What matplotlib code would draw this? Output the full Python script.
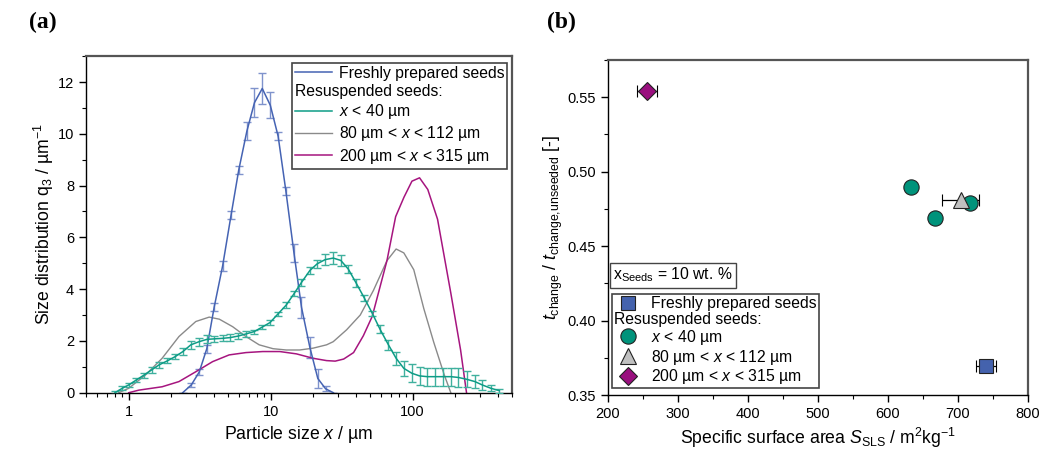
import numpy as np
import matplotlib
matplotlib.use("Agg")
import matplotlib.pyplot as plt
from matplotlib.lines import Line2D
from matplotlib.ticker import MultipleLocator, LogLocator, NullFormatter, FormatStrFormatter

plt.rcParams['font.family'] = ['Liberation Sans', 'DejaVu Sans']
plt.rcParams['mathtext.fontset'] = 'custom'
plt.rcParams['mathtext.rm'] = 'Liberation Sans'
plt.rcParams['mathtext.it'] = 'Liberation Sans:italic'
plt.rcParams['mathtext.bf'] = 'Liberation Sans:bold'

# (a) particle size distributions
fresh_x = [2.4, 2.76, 3.14, 3.55, 4.0, 4.59, 5.26, 5.96, 6.8, 7.69, 8.73, 9.95, 11.3, 12.8, 14.6, 16.5, 18.9, 21.5, 24.4, 27.7]
fresh_y = [0, 0.3, 0.8, 1.7, 3.3, 4.9, 6.85, 8.6, 10.1, 11.2, 11.75, 11.1, 9.9, 7.8, 5.4, 3.3, 1.75, 0.55, 0.15, 0]
fresh_err = [0, 0.08, 0.12, 0.15, 0.15, 0.2, 0.15, 0.15, 0.35, 0.55, 0.6, 0.5, 0.15, 0.15, 0.35, 0.4, 0.4, 0.35, 0.1, 0]

small_x = [0.80, 0.90, 1.0, 1.13, 1.28, 1.45, 1.63, 1.87, 2.12, 2.41,
           2.74, 3.13, 3.55, 4.0, 4.59, 5.2, 5.93, 6.7, 7.65, 8.7,
           9.9, 11.3, 12.9, 14.6, 16.5, 18.9, 21.3, 24.2, 27.6, 31.2,
           35.3, 40.1, 45.8, 52, 59, 67.6, 76.6, 86.8, 99, 112,
           127, 144, 164, 186, 210, 240, 275, 310, 357, 408]
small_y = [0, 0.17, 0.3, 0.49, 0.68, 0.88, 1.07, 1.23, 1.39, 1.59,
           1.85, 1.97, 2.06, 2.08, 2.1, 2.13, 2.19, 2.27, 2.36, 2.53,
           2.71, 3.05, 3.39, 3.82, 4.26, 4.72, 4.98, 5.14, 5.2, 5.11,
           4.77, 4.23, 3.65, 3.07, 2.45, 1.85, 1.33, 0.94, 0.75, 0.65,
           0.62, 0.62, 0.62, 0.62, 0.59, 0.52, 0.43, 0.3, 0.17, 0.08]
small_err = [0.05, 0.08, 0.08, 0.08, 0.1, 0.1, 0.1, 0.1, 0.1, 0.12,
             0.15, 0.15, 0.15, 0.12, 0.12, 0.12, 0.1, 0.1, 0.08, 0.08,
             0.08, 0.08, 0.1, 0.1, 0.12, 0.12, 0.15, 0.2, 0.22, 0.2,
             0.15, 0.15, 0.12, 0.1, 0.15, 0.2, 0.25, 0.3, 0.35, 0.35,
             0.35, 0.35, 0.35, 0.35, 0.35, 0.3, 0.25, 0.2, 0.12, 0.08]

mid_x = [0.85, 1.0, 1.31, 1.72, 2.26, 2.97, 3.69, 4.35, 5.4, 6.7, 8.3, 10.4, 12.9, 16.0,
         19.9, 24.8, 27.6, 34.3, 42.8, 53, 66, 76.6, 86.8, 102, 120, 141, 167, 186]
mid_y = [0, 0.17, 0.68, 1.33, 2.17, 2.75, 2.92, 2.84, 2.55, 2.17, 1.85, 1.7, 1.65, 1.65,
         1.72, 1.85, 1.97, 2.43, 3.0, 3.95, 5.1, 5.55, 5.4, 4.75, 3.25, 1.95, 0.7, 0]

large_x = [1.0, 1.18, 1.72, 2.26, 2.97, 3.9, 5.1, 6.7, 8.8, 11.6, 15.2, 19.9, 24.8, 28.5,
           32.7, 38.4, 45, 52, 66, 76, 87, 99, 112, 128, 150, 186, 218, 240]
large_y = [0, 0.1, 0.23, 0.43, 0.81, 1.2, 1.46, 1.55, 1.59, 1.59, 1.5, 1.33, 1.24, 1.22,
           1.3, 1.55, 2.2, 2.95, 5.1, 6.8, 7.55, 8.17, 8.3, 7.85, 6.7, 3.85, 1.65, 0]

# (b) relative change time vs specific surface area
fresh_s, fresh_t, fresh_serr = [740], [0.3695], [14]
small_s, small_t = [633, 668, 717], [0.490, 0.469, 0.479]
mid_s, mid_t, mid_serr = [704], [0.4807], [26]
large_s, large_t, large_serr = [256], [0.5540], [14]

labels = ['Freshly prepared seeds', 'Resuspended seeds:', '$x$ < 40 µm',
          '80 µm < $x$ < 112 µm', '200 µm < $x$ < 315 µm']

c_fresh = '#4563b3'
c_small = '#0d9c86'
c_mid = '#8a8a8a'
c_large = '#a6157f'
m_fresh = '#4462ad'
m_small = '#00937b'
m_mid = '#c0c0c0'
m_large = '#990f7e'

fig = plt.figure(figsize=(10.41, 4.5), dpi=100)
ax1 = fig.add_axes([0.0826, 0.1273, 0.409, 0.748])
ax2 = fig.add_axes([0.5838, 0.1222, 0.4035, 0.7444])


def flush_header(leg, idx):
    rows = [r for col in leg._legend_handle_box.get_children() for r in col.get_children()]
    row = rows[idx]
    row.get_children()[0].width = 0
    row.sep = 0


# ---- panel (a)
ax1.errorbar(fresh_x, fresh_y, yerr=fresh_err, color=c_fresh, lw=1.1, ecolor='#7f93cc',
             elinewidth=1.0, capsize=3, capthick=1.0)
ax1.plot(mid_x, mid_y, color=c_mid, lw=1.0)
ax1.plot(large_x, large_y, color=c_large, lw=1.1)
ax1.errorbar(small_x, small_y, yerr=small_err, color=c_small, lw=1.1, ecolor='#3fb09e',
             elinewidth=1.0, capsize=3, capthick=1.0, zorder=3)

ax1.set_xscale('log')
ax1.set_xlim(0.5, 500)
ax1.set_ylim(0, 13)
ax1.xaxis.set_minor_locator(LogLocator(base=10, subs=np.arange(2, 10), numticks=20))
ax1.xaxis.set_minor_formatter(NullFormatter())
ax1.set_xticks([1, 10, 100])
ax1.set_xticklabels(['1', '10', '100'])
ax1.yaxis.set_major_locator(MultipleLocator(2))
ax1.yaxis.set_minor_locator(MultipleLocator(1))
ax1.set_xlabel('Particle size $x$ / µm', fontsize=12.7)
ax1.set_ylabel('Size distribution q$_3$ / µm$^{-1}$', fontsize=12.7, labelpad=1)

h1 = [Line2D([], [], color=c_fresh, lw=1.1), Line2D([], [], alpha=0),
      Line2D([], [], color=c_small, lw=1.1), Line2D([], [], color=c_mid, lw=1.0),
      Line2D([], [], color=c_large, lw=1.1)]
leg1 = ax1.legend(h1, labels, loc='upper right', bbox_to_anchor=(0.99, 0.98),
                  borderaxespad=0, fontsize=11.3, handlelength=2.4, handletextpad=0.4,
                  labelspacing=0.2, borderpad=0.2, fancybox=False, framealpha=1,
                  edgecolor='#444444')
leg1.get_frame().set_linewidth(1.2)
flush_header(leg1, 1)

# ---- panel (b)
ax2.errorbar(fresh_s, fresh_t, xerr=fresh_serr, fmt='s', ms=10, mfc=m_fresh, mec='#222222',
             mew=0.8, ecolor='black', elinewidth=0.9, capsize=4)
ax2.errorbar(small_s, small_t, fmt='o', ms=11, mfc=m_small, mec='#222222', mew=0.8)
ax2.errorbar(mid_s, mid_t, xerr=mid_serr, fmt='^', ms=11, mfc=m_mid, mec='#222222',
             mew=0.8, ecolor='black', elinewidth=0.9, capsize=4)
ax2.errorbar(large_s, large_t, xerr=large_serr, fmt='D', ms=9.5, mfc=m_large, mec='#222222',
             mew=0.8, ecolor='black', elinewidth=0.9, capsize=4)

ax2.set_xlim(200, 800)
ax2.set_ylim(0.35, 0.575)
ax2.xaxis.set_major_locator(MultipleLocator(100))
ax2.xaxis.set_minor_locator(MultipleLocator(50))
ax2.yaxis.set_major_locator(MultipleLocator(0.05))
ax2.yaxis.set_minor_locator(MultipleLocator(0.025))
ax2.yaxis.set_major_formatter(FormatStrFormatter('%.2f'))
ax2.set_xlabel('Specific surface area $S_{\\mathrm{SLS}}$ / m$^2$kg$^{-1}$', fontsize=12.7)
ax2.set_ylabel('$t_{\\mathrm{change}}$ / $t_{\\mathrm{change{,}unseeded}}$ [-]', fontsize=12.7,
               labelpad=2)

h2 = [Line2D([], [], ls='', marker='s', ms=10, mfc=m_fresh, mec='#222222', mew=0.8),
      Line2D([], [], alpha=0),
      Line2D([], [], ls='', marker='o', ms=11, mfc=m_small, mec='#222222', mew=0.8),
      Line2D([], [], ls='', marker='^', ms=11, mfc=m_mid, mec='#222222', mew=0.8),
      Line2D([], [], ls='', marker='D', ms=9.5, mfc=m_large, mec='#222222', mew=0.8)]
leg2 = ax2.legend(h2, labels, loc='lower left', bbox_to_anchor=(0.01, 0.02),
                  borderaxespad=0, fontsize=11.3, handlelength=1.8, handletextpad=0.6,
                  labelspacing=0.05, borderpad=0.12, fancybox=False, framealpha=1,
                  edgecolor='#444444')
leg2.get_frame().set_linewidth(1.2)
flush_header(leg2, 1)

ax2.text(0.013, 0.33, 'x$_{\\mathrm{Seeds}}$ = 10 wt. %', transform=ax2.transAxes,
         fontsize=11.3, ha='left', va='bottom',
         bbox=dict(boxstyle='square,pad=0.2', fc='white', ec='#444444', lw=1.0))

for ax in (ax1, ax2):
    ax.tick_params(which='both', direction='out', top=False, right=False, labelsize=10.5)
    ax.tick_params(which='major', length=5, width=1)
    ax.tick_params(which='minor', length=3, width=0.8)
    for side in ('left', 'bottom'):
        ax.spines[side].set_color('black')
        ax.spines[side].set_linewidth(1.0)
    for side in ('top', 'right'):
        ax.spines[side].set_color('#555555')
        ax.spines[side].set_linewidth(1.6)

fig.text(0.028, 0.95, '(a)', fontsize=17, fontweight='bold', family='Liberation Serif',
         ha='left', va='center')
fig.text(0.525, 0.95, '(b)', fontsize=17, fontweight='bold', family='Liberation Serif',
         ha='left', va='center')

fig.savefig('out.png', dpi=100)
